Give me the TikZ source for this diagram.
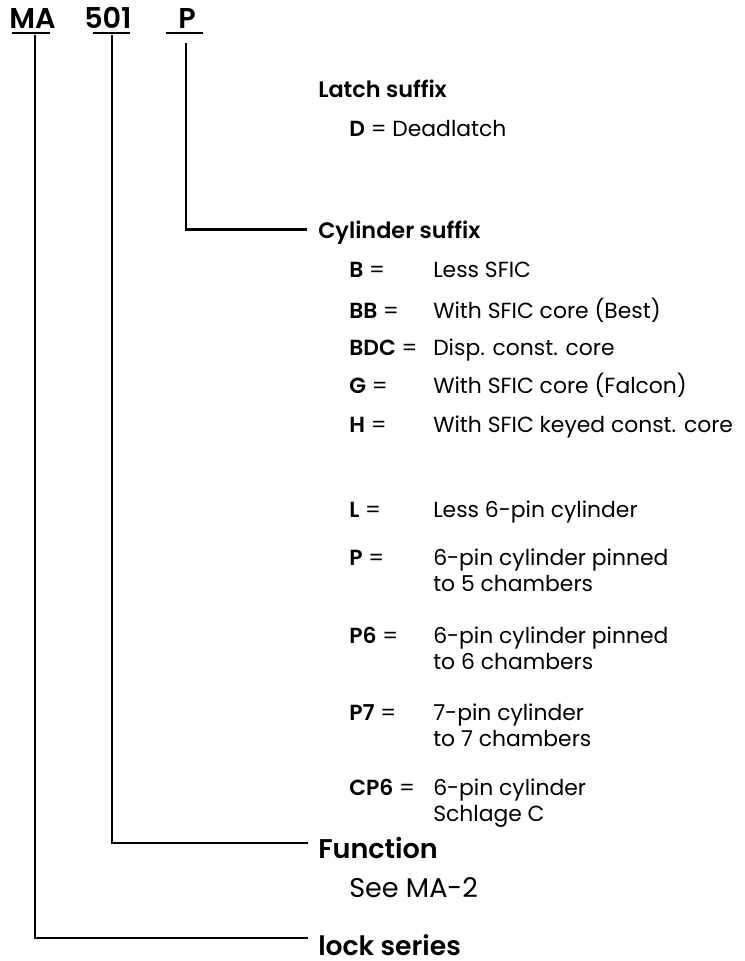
\documentclass[tikz,border=0pt]{standalone}
\usepackage{fontspec}
\setmainfont{Poppins}[BoldFont={Poppins SemiBold}]
\usetikzlibrary{positioning, calc}

\tikzset{
	code/.style={anchor=base west, inner sep=0, font=\fontsize{21.5}{24}\selectfont\bfseries},
	head/.style={anchor=base west, inner sep=0, font=\fontsize{16.8}{19}\selectfont\bfseries},
	big/.style={anchor=base west, inner sep=0, font=\fontsize{20.3}{23}\selectfont},
	item/.style={anchor=base west, inner sep=0, font=\fontsize{16.4}{19.5}\selectfont},
	bar/.style={line width=1.5pt},
	lead/.style={line width=1.9pt}
}

\begin{document}
\begin{tikzpicture}[x=0.75pt, y=-0.75pt]
	\pgfmathsetmacro{\keyx}{349}
	\pgfmathsetmacro{\valx}{433}
	\useasboundingbox (0,0) rectangle (744,961);
	% part number
	\node[code] (ma) at (9,28) {MA};
	\node[code] (fn) at (84,28) {501};
	\node[code] (cy) at (178,28) {P};
	\draw[bar] (12,32.5) -- (50,32.5);
	\draw[bar] (93,32.5) -- (130,32.5);
	\draw[bar] (166,32.5) -- (203,32.5);
	\coordinate (ma-foot) at (35,35);
	\coordinate (fn-foot) at (112,35);
	\coordinate (cy-foot) at (186,43);
	% latch suffix
	\node[head] (latch) at (318,97) {Latch suffix};
	\node[item] (dl) at (\keyx,136) {\textbf{D} = Deadlatch};
	% cylinder suffix
	\node[head] (cylsfx) at (318,238) {Cylinder suffix};
	\foreach \c/\d/\y [count=\i] in {B/Less SFIC/277.5, BB/With SFIC core (Best)/318,
		BDC/Disp. const. core/355, G/With SFIC core (Falcon)/393,
		H/With SFIC keyed const. core/432, L/Less 6-pin cylinder/517,
		P/{6-pin cylinder pinned\\to 5 chambers}/565, P6/{6-pin cylinder pinned\\to 6 chambers}/643,
		P7/{7-pin cylinder\\to 7 chambers}/720, CP6/{6-pin cylinder\\Schlage C}/795} {
		\node[item] (key\i) at (\keyx,\y) {\textbf{\c} =};
		\node[item] (val\i) at (\valx,\y) {\begin{tabular}[t]{@{}l@{}}\d\end{tabular}};
	}
	% function and series
	\node[big, font=\fontsize{20.3}{23}\selectfont\bfseries] (func) at (318,858) {Function};
	\node[big] (see) at (\keyx,897) {See MA-2};
	\node[big, font=\fontsize{20}{23}\selectfont\bfseries] (series) at (318,955) {lock series};
	% leaders
	\draw[lead] (cy-foot) |- ($(cylsfx.base west)+(-11,-8.5)$);
	\draw[lead] (fn-foot) |- ($(func.base west)+(-10,-15)$);
	\draw[lead] (ma-foot) |- ($(series.base west)+(-10,-17)$);
\end{tikzpicture}
\end{document}
